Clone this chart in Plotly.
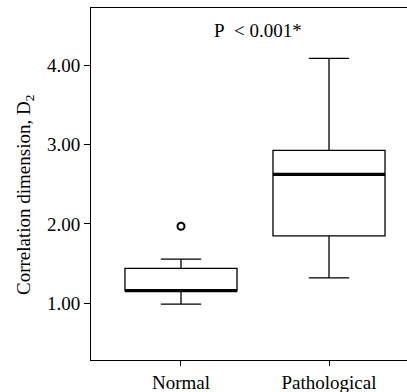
import plotly.graph_objects as go

categories = ["Normal", "Pathological"]
lower_whisker = [0.99, 1.32]
q1_vals = [1.155, 1.85]
median_vals = [1.16, 2.625]
q3_vals = [1.44, 2.925]
upper_whisker = [1.555, 4.085]
outlier_vals = [1.97]
outlier_group = [0]
y_ticks = [1.0, 2.0, 3.0, 4.0]
y_tick_labels = ["1.00", "2.00", "3.00", "4.00"]
p_text = "P\u00a0 < 0.001*"

BOX_W = 0.757
FONT = "Liberation Serif, Times New Roman, serif"

fig = go.Figure()
positions = list(range(len(categories)))

fig.add_trace(go.Box(
    x=positions,
    q1=q1_vals, median=median_vals, q3=q3_vals,
    lowerfence=lower_whisker, upperfence=upper_whisker,
    width=BOX_W, whiskerwidth=0.36,
    fillcolor="white",
    line=dict(color="black", width=1.3),
    boxpoints=False,
    showlegend=False, hoverinfo="skip",
))

for i, m in zip(positions, median_vals):
    fig.add_trace(go.Scatter(
        x=[i - BOX_W / 2, i + BOX_W / 2], y=[m, m],
        mode="lines", line=dict(color="black", width=3.2),
        showlegend=False, hoverinfo="skip",
    ))

fig.add_trace(go.Scatter(
    x=outlier_group, y=outlier_vals, mode="markers",
    marker=dict(symbol="circle-open", size=7, color="black", line=dict(width=2)),
    showlegend=False, hoverinfo="skip",
))

fig.add_annotation(
    x=0.52, y=4.44, xref="x", yref="y", text=p_text, showarrow=False,
    font=dict(family=FONT, size=19, color="black"),
)

fig.add_annotation(
    x=-(91 - 24.5) / 316, y=(360 - 195.5) / 352, xref="paper", yref="paper",
    text="Correlation dimension, D<sub>2</sub>", textangle=-90, showarrow=False,
    xanchor="center", yanchor="middle",
    font=dict(family=FONT, size=19, color="black"),
)

fig.update_layout(
    width=407, height=392,
    margin=dict(l=91, r=0, t=8, b=32),
    paper_bgcolor="white", plot_bgcolor="white",
    font=dict(family=FONT, size=19, color="black"),
    xaxis=dict(
        range=[-0.608, 1.527], tickvals=positions, ticktext=categories,
        showgrid=False, zeroline=False, showline=True, linecolor="black", linewidth=1,
        mirror=True, ticks="outside", ticklen=5, tickcolor="black",
        tickfont=dict(family=FONT, size=19, color="black"),
        automargin=False,
    ),
    yaxis=dict(
        range=[0.285, 4.72], tickvals=y_ticks, ticktext=y_tick_labels,
        showgrid=False, zeroline=False, showline=True, linecolor="black", linewidth=1,
        ticks="outside", ticklen=6, tickcolor="black",
        tickfont=dict(family=FONT, size=19, color="black"),
        automargin=False,
    ),
)

fig.write_html(
    "out.html",
    config={"displayModeBar": False},
    post_script="document.body.style.margin='0';document.body.style.overflow='hidden';",
)
